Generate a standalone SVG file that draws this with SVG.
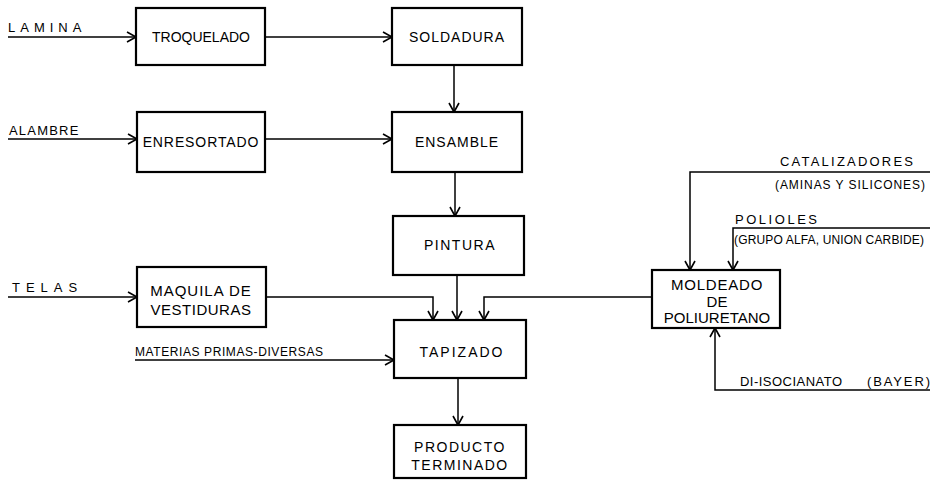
<svg xmlns="http://www.w3.org/2000/svg" width="933" height="480" viewBox="0 0 933 480">
<defs>
<marker id="arr" markerUnits="userSpaceOnUse" markerWidth="14" markerHeight="14" refX="10" refY="6" orient="auto">
<path d="M1,1 L10,6 L1,11" fill="none" stroke="#000" stroke-width="1.6"/>
</marker>
<style>
.box{fill:#fff;stroke:#000;stroke-width:2.2}
.t{font-family:"Liberation Sans",Arial,sans-serif;font-size:14px;fill:#000;text-anchor:middle}
.big{font-size:15px}
.lbl{font-family:"Liberation Sans",Arial,sans-serif;font-size:13px;fill:#000}
.sm{font-family:"Liberation Sans",Arial,sans-serif;font-size:12px;fill:#000}
.c{fill:none;stroke:#000;stroke-width:1.5}
.ca{fill:none;stroke:#000;stroke-width:1.5;marker-end:url(#arr)}
</style>
</defs>
<rect width="933" height="480" fill="#fff"/>
<g id="connectors">
<path class="ca" d="M8,37 H136"/>
<path class="ca" d="M265,37 H392"/>
<path class="ca" d="M454,65 V112"/>
<path class="ca" d="M8,139 H137"/>
<path class="ca" d="M265,139 H392"/>
<path class="ca" d="M455,172 V216"/>
<path class="ca" d="M457,275 V320"/>
<path class="ca" d="M8,297 H137"/>
<path class="ca" d="M266,297 H433 V320"/>
<path class="ca" d="M652,297 H484 V320"/>
<path class="ca" d="M135,360 H394"/>
<path class="ca" d="M458,378 V425"/>
<path class="ca" d="M930,172 H690 V270"/>
<path class="ca" d="M930,228 H733 V270"/>
<path class="ca" d="M930,390 H715 V328"/>
</g>
<g id="labels">
<text class="lbl" x="8" y="32" letter-spacing="5">LAMINA</text>
<text class="lbl" x="9" y="135" font-size="14" letter-spacing="1.2">ALAMBRE</text>
<text class="lbl" x="12" y="292" font-size="15" letter-spacing="6">TELAS</text>
<text class="sm" x="135" y="356" font-size="12.5" textLength="188" lengthAdjust="spacing">MATERIAS PRIMAS-DIVERSAS</text>
<text class="lbl" x="780" y="166" textLength="133" lengthAdjust="spacing">CATALIZADORES</text>
<text class="sm" x="775" y="189" textLength="150" lengthAdjust="spacing">(AMINAS Y SILICONES)</text>
<text class="lbl" x="735" y="224" textLength="82" lengthAdjust="spacing">POLIOLES</text>
<text class="sm" x="734" y="244" font-size="11.5" textLength="190" lengthAdjust="spacing">(GRUPO ALFA, UNION CARBIDE)</text>
<text class="lbl" x="740" y="386" font-size="12.5" textLength="102" lengthAdjust="spacing">DI-ISOCIANATO</text>
<text class="lbl" x="867" y="386" font-size="12.5" textLength="63" lengthAdjust="spacing">(BAYER)</text>
</g>
<g id="troquelado"><rect class="box" x="136" y="8" width="129" height="57"/><text class="t" x="201" y="42">TROQUELADO</text></g>
<g id="soldadura"><rect class="box" x="392" y="8" width="130" height="57"/><text class="t" x="457" y="42" letter-spacing="1">SOLDADURA</text></g>
<g id="enresortado"><rect class="box" x="137" y="112" width="128" height="60"/><text class="t" x="201" y="147" letter-spacing="0.9">ENRESORTADO</text></g>
<g id="ensamble"><rect class="box" x="392" y="112" width="130" height="60"/><text class="t" x="457" y="147" letter-spacing="1">ENSAMBLE</text></g>
<g id="pintura"><rect class="box" x="393" y="216" width="131" height="59"/><text class="t" x="460" y="250" letter-spacing="1.5">PINTURA</text></g>
<g id="maquila"><rect class="box" x="137" y="267" width="129" height="60"/><text class="t big" x="201" y="296" letter-spacing="1">MAQUILA DE</text><text class="t big" x="201" y="315" letter-spacing="0.5">VESTIDURAS</text></g>
<g id="tapizado"><rect class="box" x="394" y="320" width="132" height="58"/><text class="t" x="462" y="357" letter-spacing="2">TAPIZADO</text></g>
<g id="producto"><rect class="box" x="394" y="425" width="132" height="53"/><text class="t" x="460" y="452" letter-spacing="1.5">PRODUCTO</text><text class="t" x="460" y="470" letter-spacing="1.5">TERMINADO</text></g>
<g id="moldeado"><rect class="box" x="652" y="270" width="128" height="58"/><text class="t big" x="717" y="290" letter-spacing="0.8">MOLDEADO</text><text class="t big" x="717" y="307">DE</text><text class="t big" x="717" y="323">POLIURETANO</text></g>
</svg>
